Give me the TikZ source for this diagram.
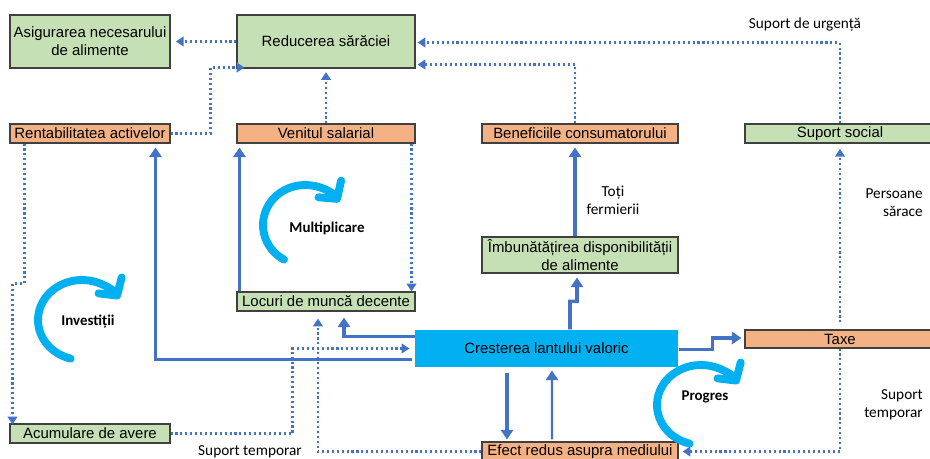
\documentclass[tikz,border=0pt]{standalone}
\usepackage{fontspec}
\setmainfont{Liberation Sans}
\newfontfamily\calibri{Carlito}
\usetikzlibrary{arrows.meta,calc}
\definecolor{boxgreen}{HTML}{C5E0B4}
\definecolor{boxorange}{HTML}{F4B183}
\definecolor{chaincyan}{HTML}{00B0F0}
\definecolor{linkblue}{HTML}{4472C4}
\definecolor{boxedge}{HTML}{404040}

\begin{document}
\begin{tikzpicture}[x=0.02cm,y=0.02cm,
    greenbox/.style={draw=boxedge,line width=0.6pt,fill=boxgreen,inner sep=0pt,
      align=center,font=\fontsize{8.5}{10.2}\selectfont},
    orangebox/.style={greenbox,fill=boxorange},
    dotarrow/.style={linkblue,line width=1.4pt,dash pattern=on 1.2pt off 1.6pt,
      -{Triangle[length=4.5pt,width=5.5pt]}},
    solidarrow/.style={linkblue,line width=2pt,-{Triangle[length=5.5pt,width=7pt]}},
    cyclearrow/.style={chaincyan,line width=4.5pt,line cap=round,
      -{Straight Barb[length=7pt,width=16pt,round]}},
    note/.style={font=\calibri\fontsize{8.7}{10.2}\selectfont,align=center},
    loopnote/.style={font=\calibri\bfseries\fontsize{8.5}{10}\selectfont}]
  \useasboundingbox (0,0) rectangle (930,-459);
  \clip (0,0) rectangle (930,-459);

  % boxes
  \node[greenbox,minimum width=3.2cm,minimum height=1.06cm] (asig) at (90,-41.5)
    {Asigurarea necesarului\\de alimente};
  \node[greenbox,minimum width=3.56cm,minimum height=1.06cm] (reduc) at (326,-41.5)
    {Reducerea sărăciei};
  \node[orangebox,minimum width=3.2cm,minimum height=0.38cm] (rent) at (90,-133.5)
    {Rentabilitatea activelor};
  \node[orangebox,minimum width=3.56cm,minimum height=0.38cm] (venit) at (326,-133.5)
    {Venitul salarial};
  \node[orangebox,minimum width=3.92cm,minimum height=0.38cm] (benef) at (580,-133.5)
    {Beneficiile consumatorului};
  \node[greenbox,minimum width=3.8cm,minimum height=0.38cm] (social) at (840,-133.5)
    {Suport social};
  \node[greenbox,minimum width=3.92cm,minimum height=0.72cm] (imbun) at (580,-255)
    {Îmbunătățirea disponibilității\\de alimente};
  \node[greenbox,minimum width=3.56cm,minimum height=0.38cm] (locuri) at (326,-301.5)
    {Locuri de muncă decente};
  \node[greenbox,draw=none,fill=chaincyan,minimum width=5.26cm,minimum height=0.74cm]
    (crest) at (546.5,-348.5) {Cresterea lantului valoric};
  \node[orangebox,minimum width=3.8cm,minimum height=0.36cm] (taxe) at (840,-339)
    {Taxe};
  \node[greenbox,minimum width=3.2cm,minimum height=0.38cm] (acum) at (90,-433.5)
    {Acumulare de avere};
  \node[orangebox,minimum width=3.92cm,minimum height=0.38cm] (efect) at (580,-451.5)
    {Efect redus asupra mediului};

  % dotted links
  \draw[dotarrow,shorten >=3pt] (reduc.west) -- (asig.east);
  \draw[dotarrow] (rent.east) -- ++(40,0) |- ($(reduc.south west)+(8,1)$);
  \draw[dotarrow,shorten >=2pt] (venit.north) -- (reduc.south);
  \draw[dotarrow] ($(benef.north)+(-5,0)$) |- ($(reduc.south east)+(2,4)$);
  \draw[dotarrow] (social.north) |- ($(reduc.east)+(2,-1)$);
  \draw[dotarrow] ($(venit.south east)+(-4,0)$) -- ($(locuri.north east)+(-4,0)$);
  \draw[dotarrow] ($(rent.south west)+(15,0)$) -- ++(0,-140) -- ++(-12,0)
    -- ($(acum.north west)+(3,-1)$);
  \draw[dotarrow] (acum.east) -- ++(122,0) |- ($(crest.west)+(-5,0)$);
  \draw[dotarrow] (efect.west) -| ($(locuri.south)+(-8,-7)$);
  \draw[dotarrow] (taxe.south) |- ($(efect.east)+(4,0)$);
  \draw[dotarrow,shorten <=4pt,shorten >=3pt] (taxe.north) -- (social.south);

  % solid links
  \draw[solidarrow] ($(crest.west)+(-3,-11)$) -| ($(rent.south east)+(-15,-4)$);
  \draw[solidarrow] ($(crest.north west)+(0,-7)$) -| ($(locuri.south)+(18,-6)$);
  \draw[solidarrow] ($(locuri.north west)+(3,0)$) -- ($(venit.south west)+(3,-4)$);
  \draw[solidarrow] ($(crest.north)+(23.5,0)$) -- ++(0,28) -- ++(7,0)
    -- ($(imbun.south)+(-3,-4)$);
  \draw[solidarrow] ($(imbun.north)+(-5,0)$) -- ($(benef.south)+(-5,-4)$);
  \draw[solidarrow] ($(crest.east)+(0,-1)$) -- ++(34,0) |- ($(taxe.west)+(-3,1)$);
  \draw[solidarrow] ($(crest.south)+(-39.5,-5)$) -- ($(efect.north)+(-73,2)$);
  \draw[solidarrow,line width=1.4pt] ($(efect.north)+(-28,2)$) -- ($(crest.south)+(5.5,-3)$);

  % labels
  \node[note] (urgenta) at (805,-25) {Suport de urgență};
  \node[note] (fermieri) at (613,-200) {Toți\\fermierii};
  \node[note,align=right,anchor=east] (sarace) at (929,-203) {Persoane\\sărace};
  \node[note,align=right,anchor=east] (temporar2) at (929,-405) {Suport\\temporar};
  \node[note] (temporar1) at (250,-452) {Suport temporar};

  % loops
  \draw[cyclearrow] (305,-225) ++(240:42 and 40)
    arc[start angle=240,end angle=35,x radius=42,y radius=40];
  \node[loopnote] (mult) at (327,-228) {Multiplicare};
  \draw[cyclearrow] (82,-320) ++(255:44 and 40)
    arc[start angle=255,end angle=32,x radius=44,y radius=40];
  \node[loopnote] (invest) at (88,-322) {Investiții};
  \draw[cyclearrow] (701,-405) ++(255:44 and 40)
    arc[start angle=255,end angle=32,x radius=44,y radius=40];
  \node[loopnote] (progres) at (705,-397) {Progres};
\end{tikzpicture}
\end{document}
